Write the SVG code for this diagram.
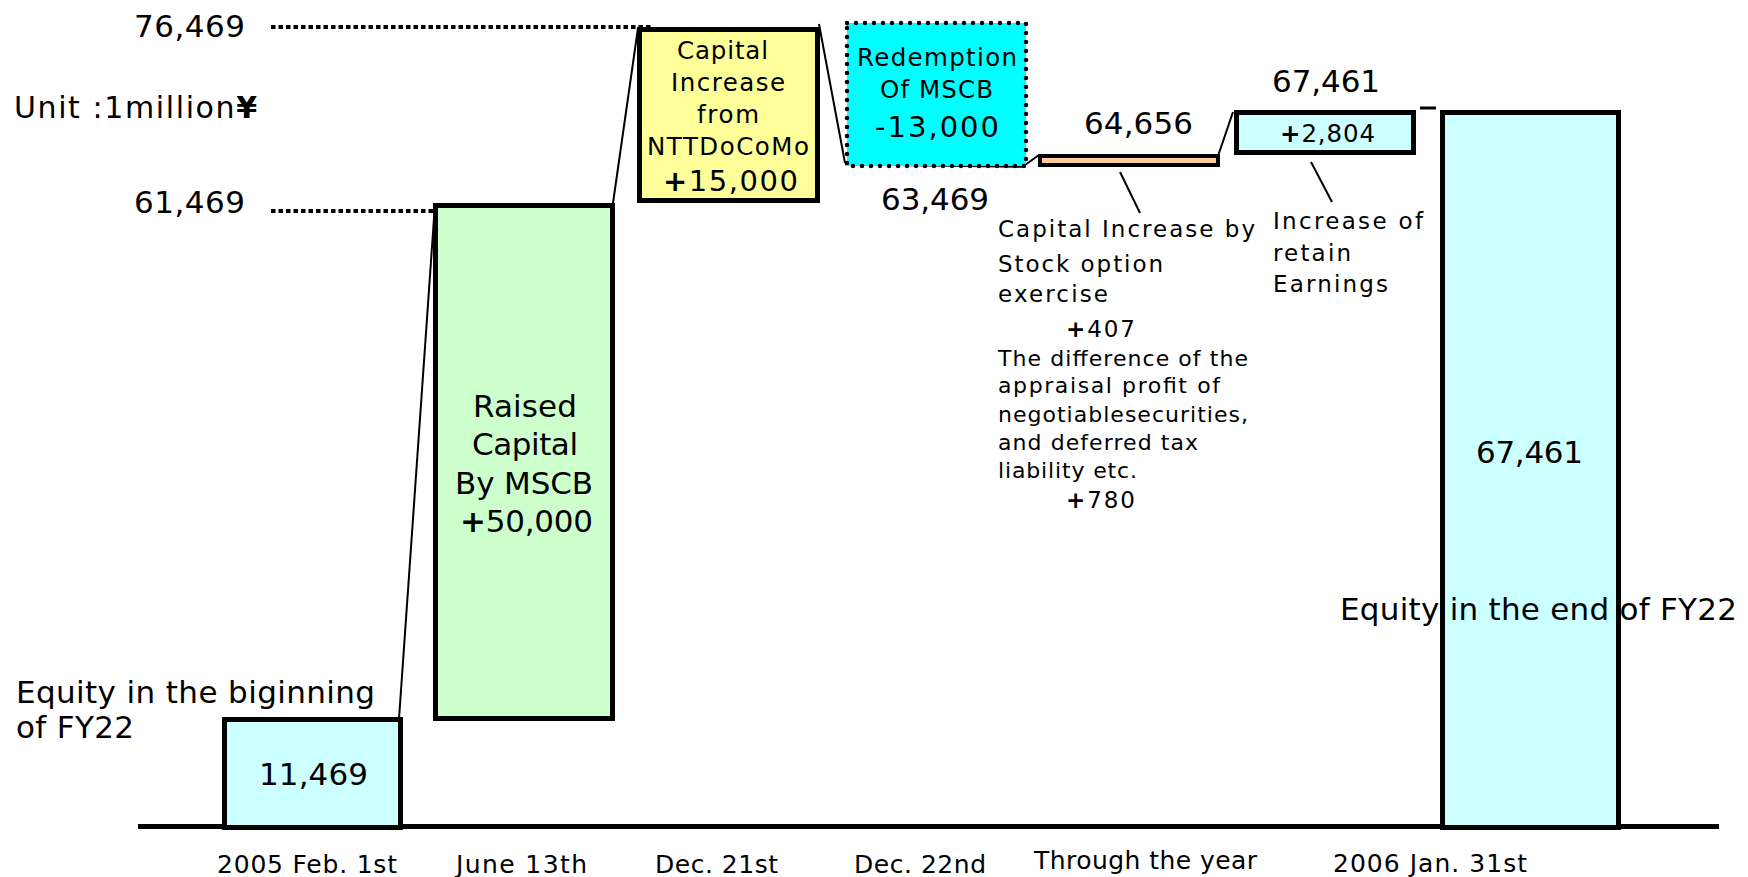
<svg xmlns="http://www.w3.org/2000/svg" width="1748" height="877" viewBox="0 0 1748 877">
<style>
text{font-family:"DejaVu Sans","Noto Sans",sans-serif;fill:#000}
.big{font-size:31px}
.mid{font-size:24.5px}
.num{font-size:29px}
.sm{font-size:23px}
.lo{font-size:22px}
.date{font-size:25px}
.box{stroke:#000;stroke-width:5}
.conn{stroke:#000;stroke-width:2;fill:none}
.dots{stroke:#000;stroke-width:4;stroke-dasharray:4.5 3;fill:none}
.b{font-weight:bold}
</style>
<rect width="1748" height="877" fill="#fff"/>

<g id="axis">
<line x1="138" y1="826.5" x2="1719" y2="826.5" stroke="#000" stroke-width="5"/>
<text class="big" x="134" y="37" textLength="111">76,469</text>
<line class="dots" x1="271" y1="27" x2="652" y2="27"/>
<text class="big" x="134" y="213" textLength="111">61,469</text>
<line class="dots" x1="271" y1="211" x2="436" y2="211"/>
<text x="14" y="118" style="font-size:30px" textLength="243">Unit :1million<tspan class="b">¥</tspan></text>
</g>

<g id="connectors">
<line class="conn" x1="399" y1="719" x2="435" y2="204"/>
<line class="conn" x1="613" y1="203" x2="638" y2="28"/>
<line class="conn" x1="819" y1="24" x2="845" y2="163"/>
<line x1="845" y1="163.5" x2="1025" y2="166" stroke="#000" stroke-width="3.5"/>
<line class="conn" x1="1025" y1="165" x2="1039" y2="155"/>
<line class="conn" x1="1218" y1="156" x2="1233" y2="112"/>
<line x1="1420" y1="108" x2="1436" y2="108" stroke="#000" stroke-width="3"/>
<line class="conn" x1="1120" y1="172" x2="1140" y2="213"/>
<line class="conn" x1="1311" y1="162" x2="1332" y2="202"/>
</g>

<g id="begin">
<rect class="box" x="224.5" y="719.5" width="176" height="108" fill="#CCFFFF"/>
<text class="big" x="259" y="785" textLength="109">11,469</text>
<text class="big" x="16" y="703" textLength="359">Equity in the biginning</text>
<text class="big" x="16" y="738" textLength="118">of FY22</text>
</g>

<g id="mscb">
<rect class="box" x="435.5" y="205.5" width="177" height="513" fill="#CCFFCC"/>
<text class="big" x="473" y="417" textLength="104">Raised</text>
<text class="big" x="472" y="455" textLength="106">Capital</text>
<text class="big" x="455" y="494" textLength="138">By MSCB</text>
<text class="big" x="460" y="532" textLength="133"><tspan class="b">+</tspan>50,000</text>
</g>

<g id="docomo">
<rect class="box" x="639.5" y="29.5" width="178" height="171" fill="#FFFF99"/>
<text class="mid" x="677" y="59" textLength="91">Capital</text>
<text class="mid" x="671" y="91" textLength="114">Increase</text>
<text class="mid" x="697" y="123" textLength="62">from</text>
<text class="mid" x="647" y="155" textLength="162">NTTDoCoMo</text>
<text class="num" x="663" y="191" textLength="135"><tspan class="b">+</tspan>15,000</text>
</g>

<g id="redemption">
<rect x="847" y="23" width="179" height="143" fill="#00FFFF" stroke="#000" stroke-width="4.5" stroke-linecap="round" stroke-dasharray="0 9"/>
<text class="mid" x="857" y="66" textLength="160">Redemption</text>
<text class="mid" x="880" y="98" textLength="113">Of MSCB</text>
<text class="num" x="875" y="137" textLength="124">-13,000</text>
<text class="big" x="881" y="210" textLength="108">63,469</text>
</g>

<g id="stockoption">
<rect x="1040" y="156" width="178" height="9" fill="#FFCC99" stroke="#000" stroke-width="4"/>
<text class="big" x="1084" y="134" textLength="109">64,656</text>
<text class="sm" x="998" y="237" textLength="257">Capital Increase by</text>
<text class="sm" x="998" y="272" textLength="165">Stock option</text>
<text class="sm" x="998" y="302" textLength="110">exercise</text>
<text class="sm" x="1066" y="337" textLength="69"><tspan class="b">+</tspan>407</text>
<text class="lo" x="998" y="366" textLength="250">The difference of the</text>
<text class="lo" x="998" y="393" textLength="222">appraisal profit  of</text>
<text class="lo" x="998" y="422" textLength="250">negotiablesecurities,</text>
<text class="lo" x="998" y="450" textLength="200">and deferred tax</text>
<text class="lo" x="998" y="478" textLength="139">liability etc.</text>
<text class="sm" x="1066" y="508" textLength="69"><tspan class="b">+</tspan>780</text>
</g>

<g id="retained">
<rect class="box" x="1236.5" y="112.5" width="177" height="40" fill="#CCFFFF"/>
<text class="mid" x="1280" y="142" textLength="95"><tspan class="b">+</tspan>2,804</text>
<text class="big" x="1272" y="92" textLength="108">67,461</text>
<text class="sm" x="1273" y="229" textLength="150">Increase of</text>
<text class="sm" x="1273" y="261" textLength="78">retain</text>
<text class="sm" x="1273" y="292" textLength="115">Earnings</text>
</g>

<g id="end">
<rect x="1442.5" y="112.5" width="176" height="715" fill="#CCFFFF"/>
<text class="big" x="1476" y="463" textLength="107">67,461</text>
<text class="big" x="1340" y="620" textLength="397">Equity in the end of FY22</text>
<rect class="box" x="1442.5" y="112.5" width="176" height="715" fill="none"/>
</g>

<g id="dates">
<text class="date" x="217" y="873" textLength="180">2005 Feb. 1st</text>
<text class="date" x="456" y="873" textLength="131">June 13th</text>
<text class="date" x="655" y="873" textLength="123">Dec. 21st</text>
<text class="date" x="854" y="873" textLength="132">Dec. 22nd</text>
<text class="date" x="1034" y="869" textLength="223">Through the year</text>
<text class="date" x="1333" y="872" textLength="194">2006 Jan. 31st</text>
</g>
</svg>
